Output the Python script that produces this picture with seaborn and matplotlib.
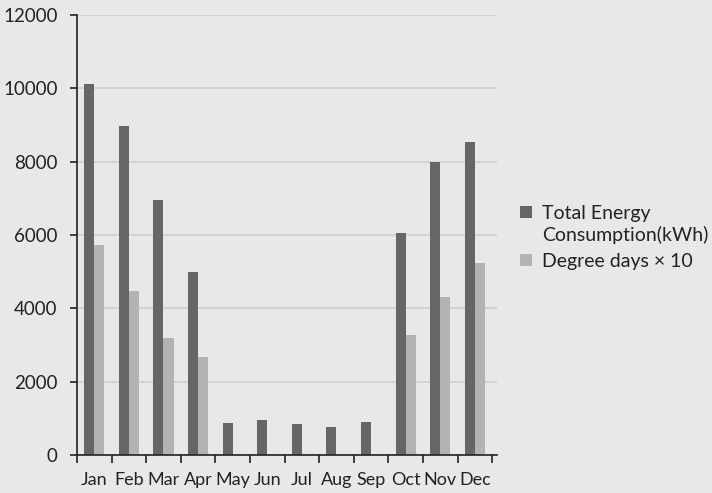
import matplotlib
matplotlib.use("Agg")
import matplotlib.pyplot as plt
import seaborn as sns
import pandas as pd

months = ["Jan", "Feb", "Mar", "Apr", "May", "Jun",
          "Jul", "Aug", "Sep", "Oct", "Nov", "Dec"]
energy_kwh = [10110, 8970, 6950, 5000, 880, 960, 850, 770, 910, 6050, 8000, 8540]
degree_days_x10 = [5730, 4480, 3200, 2680, 0, 0, 0, 0, 0, 3260, 4320, 5240]
series_names = ["Total Energy\nConsumption(kWh)", "Degree days \u00d7 10"]
y_ticks = [0, 2000, 4000, 6000, 8000, 10000, 12000]

df = pd.DataFrame({
    "month": months * 2,
    "value": energy_kwh + degree_days_x10,
    "series": [series_names[0]] * len(months) + [series_names[1]] * len(months),
})

sns.set_theme(style="white")
plt.rcParams["font.family"] = ["Lato", "DejaVu Sans"]

bg = "#e8e8e8"
fig = plt.figure(figsize=(7.12, 4.93), dpi=100, facecolor=bg)
ax = fig.add_axes([77 / 712, 1 - 455 / 493, 420 / 712, 440 / 493])
ax.set_facecolor(bg)

sns.barplot(data=df, x="month", y="value", hue="series", order=months,
            hue_order=series_names, palette=["#666666", "#b3b3b3"],
            width=0.58, gap=0, saturation=1, errorbar=None, ax=ax,
            linewidth=0, legend=True)

ax.set_ylim(0, 12000)
ax.set_xlim(-0.5, 11.64)
ax.set_yticks(y_ticks)
ax.set_yticklabels([str(t) for t in y_ticks])
ax.yaxis.grid(True, color="#d0d0d0", linewidth=1.3)
ax.set_axisbelow(True)

# category boundaries carry the x tick marks; labels sit at bar centres
ax.set_xticks([i - 0.5 for i in range(13)], minor=False)
ax.set_xticklabels([""] * 13)
ax.set_xticks(range(12), minor=True)
ax.set_xticklabels(months, minor=True)
ax.tick_params(axis="x", which="major", direction="out", length=6, width=1.2,
               color="#222222", bottom=True)
ax.tick_params(axis="x", which="minor", length=0, pad=12, labelsize=13,
               labelcolor="#222222")
ax.tick_params(axis="y", direction="out", length=5, width=1.2, color="#222222",
               left=True, pad=9, labelsize=13.5, labelcolor="#222222")

ax.set_xlabel("")
ax.set_ylabel("")
for side in ("top", "right"):
    ax.spines[side].set_visible(False)
for side in ("left", "bottom"):
    ax.spines[side].set_color("#222222")
    ax.spines[side].set_linewidth(1.2)

handles, labels = ax.get_legend_handles_labels()
leg = ax.legend(handles, labels, loc="center left", bbox_to_anchor=(1.055, 0.495),
                frameon=False, fontsize=14, handlelength=0.6, handleheight=0.6,
                handletextpad=0.55, labelspacing=0.45, borderaxespad=0,
                borderpad=0, labelcolor="#222222")
for txt in leg.get_texts():
    txt.set_linespacing(1.3)
# put the first swatch beside the first line of its two-line label
first = leg.legend_handles[0]
first.set_y(first.get_y() + 9)

fig.savefig("out.png", dpi=100, facecolor=bg)
